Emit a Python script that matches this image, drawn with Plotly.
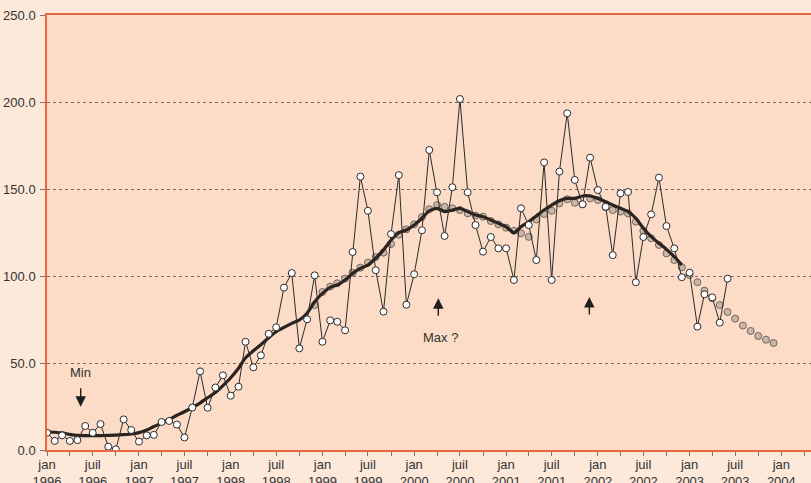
import plotly.graph_objects as go
import pandas as pd

# ---- data (monthly values) ----
raw_start = "1996-01-01"
raw_values = [
    9.9, 5.2, 8.4, 5.2, 5.7, 13.8, 9.9, 14.9, 1.9, 0.4, 17.6, 11.5,          # 1996
    4.8, 8.4, 8.7, 16.1, 16.7, 14.6, 7.2, 24.4, 45.2, 24.3, 35.9, 42.9,      # 1997
    31.2, 36.4, 62.2, 47.5, 54.4, 66.8, 70.5, 93.3, 101.7, 58.4, 75.1, 100.4,  # 1998
    62.2, 74.5, 73.7, 68.8, 113.8, 157.1, 137.5, 103.3, 79.5, 124.1, 158.0, 83.5,  # 1999
    101.0, 126.3, 172.4, 148.1, 123.0, 151.0, 201.7, 148.1, 129.3, 114.0, 122.4, 115.9,  # 2000
    115.9, 97.7, 138.9, 129.3, 109.2, 165.3, 97.7, 160.0, 193.5, 155.2, 141.2, 168.0,  # 2001
    149.4, 139.8, 112.0, 147.5, 148.3, 96.4, 122.4, 135.4, 156.5, 128.7, 115.9, 99.3,  # 2002
    101.9, 70.9, 89.5, 87.7, 73.2, 98.5,                                        # 2003
]

smooth_start = "1996-01-01"
smooth_values = [
    10.5, 10.2, 9.8, 9.0, 8.4, 8.3, 8.3, 8.3, 8.4, 8.5, 8.8, 9.2,
    10.0, 11.5, 13.5, 15.5, 17.5, 20.0, 22.0, 24.5, 27.0, 30.0, 33.0, 37.0,
    41.5, 47.0, 53.0, 57.0, 60.5, 64.5, 68.0, 70.5, 72.8, 74.7, 78.6, 85.2,
    90.0, 93.5, 94.8, 97.7, 101.5, 104.4, 106.3, 110.2, 115.0, 120.7, 124.9, 126.4,
    129.3, 133.2, 137.5, 138.9, 137.0, 137.9, 138.9, 137.0, 135.0, 134.1, 132.2, 130.3,
    128.3, 124.9, 128.3, 131.2, 134.5, 137.9, 140.8, 143.3, 144.6, 144.6, 146.0, 146.0,
    144.6, 142.7, 140.8, 138.9, 137.0, 133.2, 127.4, 122.6, 118.8, 115.3, 111.1, 106.3,
]

trend_start = "1998-12-01"
trend_values = [
    83.3,
    90.8, 93.9, 95.8, 98.5, 101.9, 104.8, 107.7, 110.9, 113.4, 118.4, 123.7, 126.8,
    129.7, 133.9, 138.4, 140.8, 139.8, 138.9, 137.9, 136.0, 134.7, 134.1, 131.6, 129.7,
    127.8, 126.0, 124.5, 122.5, 132.5, 135.6, 137.5, 141.8, 144.1, 142.1, 141.2, 144.6,
    143.7, 139.5, 137.9, 137.0, 136.0, 131.2, 126.0, 121.7, 117.8, 113.0, 109.2, 105.0,
    100.6, 96.4, 91.6, 87.2, 83.3, 79.3, 75.5, 71.5, 68.4, 65.5, 63.4, 61.5,
]

tick_dates = pd.date_range("1996-01-01", "2004-01-01", freq="6MS")
tick_labels = [("jan" if d.month == 1 else "juil") + "<br>" + str(d.year) for d in tick_dates]
y_ticks = [0, 50, 100, 150, 200, 250]

raw_x = pd.date_range(raw_start, periods=len(raw_values), freq="MS")
smooth_x = pd.date_range(smooth_start, periods=len(smooth_values), freq="MS")
trend_x = pd.date_range(trend_start, periods=len(trend_values), freq="MS")

FONT = "Liberation Sans, Arial, sans-serif"
AXIS_RED = "#e8683f"

fig = go.Figure()

fig.add_trace(go.Scatter(
    x=trend_x, y=trend_values, mode="markers",
    marker=dict(size=7, color="#c9b6a6", line=dict(color="#72665d", width=1)),
    hoverinfo="skip", showlegend=False,
))
fig.add_trace(go.Scatter(
    x=smooth_x, y=smooth_values, mode="lines",
    line=dict(color="#2b231f", width=3.2, shape="spline", smoothing=0.6),
    hoverinfo="skip", showlegend=False,
))
fig.add_trace(go.Scatter(
    x=raw_x, y=raw_values, mode="lines+markers",
    line=dict(color="#2b2b2b", width=1),
    marker=dict(size=7, color="white", line=dict(color="#2b2b2b", width=1)),
    showlegend=False,
))

arrow_common = dict(text="", showarrow=True, arrowhead=2, arrowsize=1.5,
                    arrowwidth=1.4, arrowcolor="#1e1e1e", ax=0, standoff=0,
                    xref="x", yref="y")
annotations = [
    dict(x="1996-05-13", y=44.3, text="Min", showarrow=False,
         font=dict(family=FONT, size=13, color="#333333")),
    dict(x="1996-05-14", y=24.9, ay=-20, **arrow_common),
    dict(x="2000-04-13", y=64.9, text="Max ?", showarrow=False,
         font=dict(family=FONT, size=13, color="#333333")),
    dict(x="2000-04-06", y=87.2, ay=19, **arrow_common),
    dict(x="2001-11-28", y=87.9, ay=19, **arrow_common),
]

fig.update_layout(
    width=811, height=483,
    margin=dict(l=47, r=0, t=15, b=33, pad=0, autoexpand=False),
    paper_bgcolor="#fde9da",
    plot_bgcolor="#fcdcc6",
    font=dict(family=FONT, size=13, color="#333333"),
    annotations=annotations,
    showlegend=False,
)
fig.update_xaxes(
    type="date", automargin=False,
    range=["1996-01-01", "2004-04-28"],
    tickmode="array", tickvals=tick_dates, ticktext=tick_labels,
    ticks="outside", ticklen=4, tickcolor="#777777", tickwidth=1,
    ticklabelstandoff=-2,
    minor=dict(dtick="M3", tick0="1996-01-01", ticks="outside", ticklen=4,
               tickcolor="#777777", showgrid=False),
    showgrid=False, zeroline=False,
    showline=True, linecolor=AXIS_RED, linewidth=1.5, mirror=True,
    tickfont=dict(family=FONT, size=13, color="#333333"),
)
fig.update_yaxes(
    range=[0, 250], automargin=False,
    tickmode="array", tickvals=y_ticks, tickformat=".1f",
    ticks="outside", ticklen=5, tickcolor="#777777",
    ticklabelstandoff=2,
    showgrid=True, gridcolor="#7a6a60", griddash="dot", gridwidth=1,
    zeroline=False,
    showline=True, linecolor=AXIS_RED, linewidth=1.5, mirror=False,
    tickfont=dict(family=FONT, size=13, color="#333333"),
)

# remove the browser's default 8px body margin so the figure sits at the page corner
fig.write_html("out.html", config={"displayModeBar": False},
               post_script="document.body.style.margin='0px';")
